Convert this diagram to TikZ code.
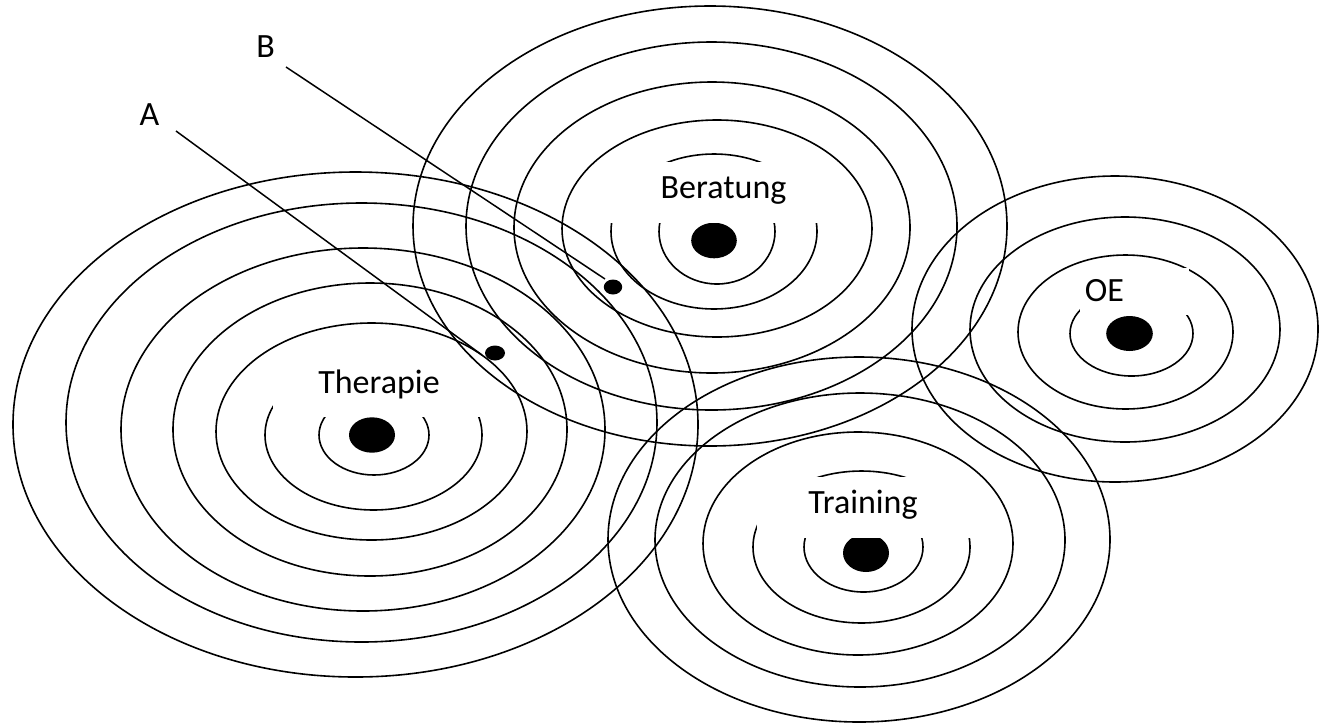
\documentclass[tikz,border=0pt]{standalone}
\usepackage{fontspec}
\setmainfont{Carlito}
\usetikzlibrary{shapes.geometric}
\begin{document}
\begin{tikzpicture}[x=1pt,y=-1pt,
  ring/.style={line width=1.6pt},
  lbl/.style={font=\fontsize{34}{40}\selectfont, anchor=base, inner sep=0pt},
  blob/.style={ellipse, fill=black, inner sep=0pt},
  mask/.style={fill=white},
  pointer/.style={line width=1.5pt}]
\useasboundingbox[fill=white] (0,0) rectangle (1319,724);

% ---- Therapie ----
\draw[ring] (355.5,424.5) ellipse [x radius=342.5pt, y radius=252.5pt];
\draw[ring] (361.5,422.5) ellipse [x radius=295.5pt, y radius=219.5pt];
\draw[ring] (363,429.5) ellipse [x radius=242pt, y radius=181.5pt];
\draw[ring] (370,429.5) ellipse [x radius=197pt, y radius=146.5pt];
\draw[ring] (371.5,431.5) ellipse [x radius=155.5pt, y radius=108.5pt];
\draw[ring] (373.5,435) ellipse [x radius=108.5pt, y radius=75pt];
\draw[ring] (374,435) ellipse [x radius=55pt, y radius=40pt];
\node[blob, minimum width=46pt, minimum height=35.4pt] (tdot) at (372,435) {};
\fill[mask] (273,355) rectangle (480,417);
\node[lbl] (therapie) at (379,393) {Therapie};

% ---- Beratung ----
\draw[ring] (710,226) ellipse [x radius=297pt, y radius=220pt];
\draw[ring] (711.5,226) ellipse [x radius=245.5pt, y radius=184pt];
\draw[ring] (712,227.5) ellipse [x radius=198pt, y radius=145.5pt];
\draw[ring] (717,228.5) ellipse [x radius=155pt, y radius=108.5pt];
\draw[ring] (714,231.5) ellipse [x radius=103pt, y radius=77.5pt];
\draw[ring] (717,231.5) ellipse [x radius=58pt, y radius=52.5pt];
\node[blob, minimum width=45.6pt, minimum height=35.6pt] (bdotc) at (714,240.5) {};
\fill[mask] (604,162) rectangle (830,223);
\node[lbl] (beratung) at (723.5,198) {Beratung};

% ---- Training ----
\draw[ring] (859,539.5) ellipse [x radius=251pt, y radius=182.5pt];
\draw[ring] (860,540) ellipse [x radius=205pt, y radius=147pt];
\draw[ring] (858,543.5) ellipse [x radius=155pt, y radius=111.5pt];
\draw[ring] (861.5,547) ellipse [x radius=108.5pt, y radius=76pt];
\draw[ring] (863.5,547) ellipse [x radius=59.5pt, y radius=45pt];
\node[blob, minimum width=46pt, minimum height=38pt] (trdot) at (866,553) {};
\fill[mask] (757,477) rectangle (972,538);
\node[lbl] (training) at (863,513) {Training};

% ---- OE ----
\draw[ring] (1115,329) ellipse [x radius=203pt, y radius=153pt];
\draw[ring] (1125,329.5) ellipse [x radius=155pt, y radius=112.5pt];
\draw[ring] (1125.5,332) ellipse [x radius=107.5pt, y radius=77pt];
\draw[ring] (1131.5,333.5) ellipse [x radius=61.5pt, y radius=42.5pt];
\node[blob, minimum width=46.6pt, minimum height=35pt] (oedot) at (1129.5,333.5) {};
\fill[mask] (1080,268) rectangle (1189,315);
\node[lbl] (oe) at (1104.5,301) {OE};

% ---- pointers A and B ----
\node[lbl] (A) at (149.5,125) {A};
\node[lbl] (B) at (265.5,57) {B};
\coordinate (a0) at (176,131);
\coordinate (a1) at (482,355);
\coordinate (b0) at (286,67);
\coordinate (b1) at (605,279);
\draw[pointer] (a0) -- (a1);
\draw[pointer] (b0) -- (b1);
\node[blob, minimum width=20pt, minimum height=15pt] (adot) at (495,353) {};
\node[blob, minimum width=18.4pt, minimum height=15pt] (bdot) at (613,287) {};
\end{tikzpicture}
\end{document}
